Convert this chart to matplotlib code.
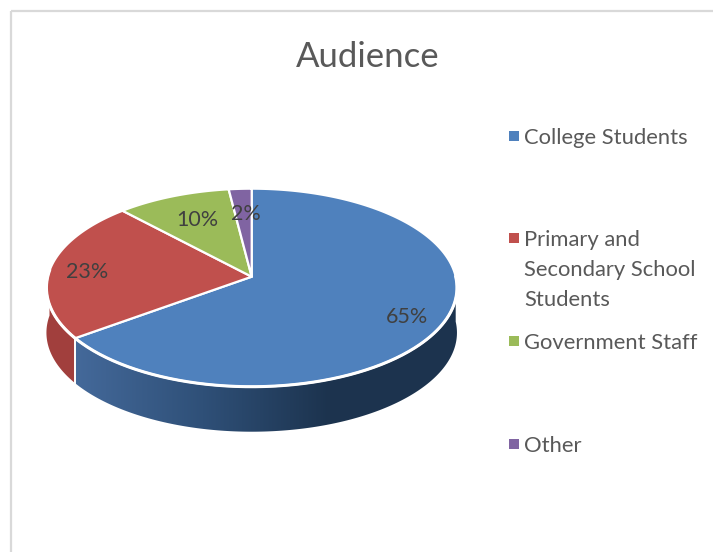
import matplotlib
matplotlib.use('Agg')
import matplotlib.pyplot as plt
from matplotlib.patches import Polygon
from matplotlib.colors import LinearSegmentedColormap
import numpy as np

plt.rcParams['font.family'] = ['Lato', 'DejaVu Sans']

title = 'Audience'
categories = ['College Students', 'Primary and\nSecondary School\nStudents', 'Government Staff', 'Other']
values = [65, 23, 10, 2]
colors = ['#4f81bd', '#c0504d', '#9bbb59', '#8064a2']
legend_y = [136, 238, 341, 444]
label_pos = [(407, 317), (87, 272), (197, 220), (246, 214)]

# pie geometry in figure pixels, tilted with a slight perspective
cx, cy = 251.7, 276.7
rx, ry = 204.0, 97.8
tilt = 0.111
depth = 45


def project(turn):
    # turn is the clockwise fraction of the circle from 12 o'clock
    a = np.asarray(turn) * 2 * np.pi
    x, y = np.sin(a), np.cos(a)
    w = 1 + tilt * y
    return cx + rx * x / w, cy - ry * y / w


fig = plt.figure(figsize=(7.13, 5.52), dpi=100)
ax = fig.add_axes([0, 0, 1, 1])
ax.set_xlim(0, 713)
ax.set_ylim(552, 0)
ax.axis('off')

# frame: only the top and left edges show
ax.plot([10.5, 713], [10.5, 10.5], color='#d9d9d9', lw=1.6, solid_capstyle='butt')
ax.plot([10.5, 10.5], [10.5, 552], color='#d9d9d9', lw=1.6, solid_capstyle='butt')

edges = np.cumsum([0] + values) / sum(values)

# side wall of the two front slices
t_start = 0.25
t_split = edges[1]
t_end = 0.76

tt = np.linspace(t_start, t_split, 200)
xs, ys = project(tt)
blue_wall = Polygon(np.r_[np.c_[xs, ys], np.c_[xs[::-1], ys[::-1] + depth]], closed=True,
                    facecolor='none', edgecolor='none')
ax.add_patch(blue_wall)
wall_cmap = LinearSegmentedColormap.from_list('wall', ['#44699a', '#2f5078', '#1c334e', '#1d344f'])
im = ax.imshow(np.linspace(0, 1, 256)[None, :], cmap=wall_cmap, extent=(xs.min(), xs.max(), 440, 280),
               aspect='auto', zorder=1)
im.set_clip_path(blue_wall)
ax.set_xlim(0, 713)
ax.set_ylim(552, 0)

tt = np.linspace(t_split, t_end, 100)
xs, ys = project(tt)
ax.add_patch(Polygon(np.r_[np.c_[xs, ys], np.c_[xs[::-1], ys[::-1] + depth]], closed=True,
                     facecolor='#a13f3d', edgecolor='none', zorder=1))

# white seam between the red and blue walls
sx, sy = project(t_split)
ax.plot([sx, sx], [sy, sy + depth], color='white', lw=1.4, zorder=2)

# top face
for i in range(len(values)):
    tt = np.linspace(edges[i], edges[i + 1], 200)
    xs, ys = project(tt)
    pts = np.r_[[[cx, cy]], np.c_[xs, ys]]
    ax.add_patch(Polygon(pts, closed=True, facecolor=colors[i], edgecolor='white',
                         lw=1.6, joinstyle='round', zorder=3))

# heavier white rim where the top meets the wall
xs, ys = project(np.linspace(t_start, t_end, 300))
ax.plot(xs, ys, color='white', lw=2.2, zorder=3.5)

# percentage labels
for v, (lx, ly) in zip(values, label_pos):
    ax.text(lx, ly, '{:.0f}%'.format(100 * v / sum(values)), color='#404040', fontsize=15.5,
            ha='center', va='center', zorder=4)

ax.text(367.5, 57, title, color='#595959', fontsize=25, ha='center', va='center')

# legend
for name, col, ly in zip(categories, colors, legend_y):
    ax.scatter([513.5], [ly], marker='s', s=55, color=col, linewidths=0)
    ax.text(524, ly - 8, name, color='#595959', fontsize=15.8, ha='left', va='top', linespacing=1.62)

fig.savefig('out.png', dpi=100)
